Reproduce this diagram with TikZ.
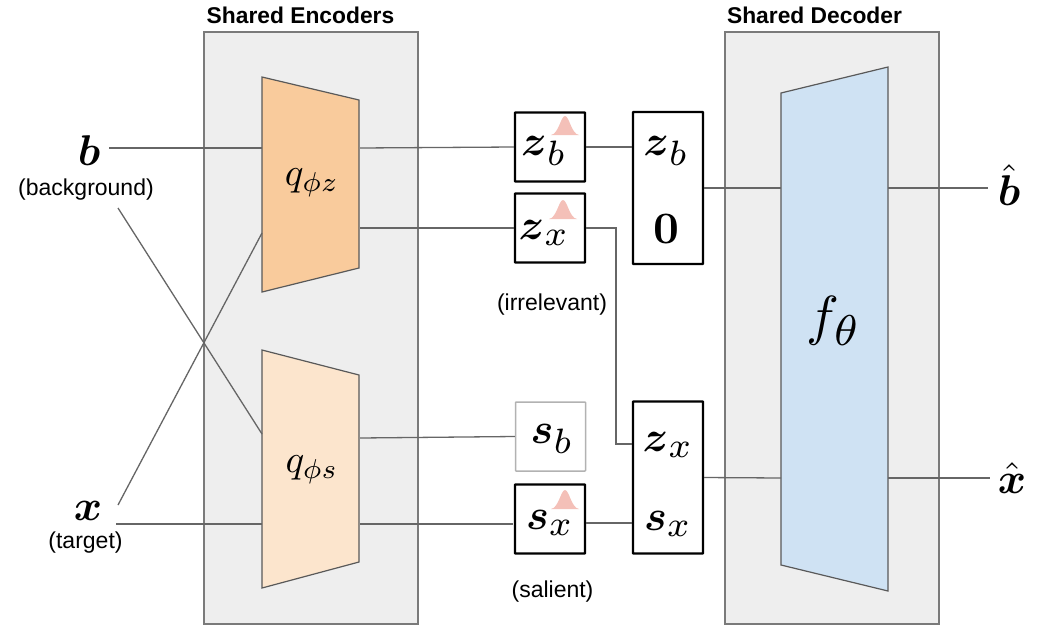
\documentclass[tikz,border=0pt]{standalone}
\usepackage{amsmath}
\usepackage{fontspec}
\setmainfont{Liberation Sans}
\newcommand{\labelsize}{\fontsize{23}{26}\selectfont}
\newcommand{\titlesize}{\fontsize{22.8}{26}\selectfont\bfseries}
\newcommand{\scaledmath}[2]{\scalebox{#1}{$#2$}}
\newcommand{\latentsym}[2]{\scalebox{4.3}{$\boldsymbol{#1}_{\scalebox{1.17}{$\scriptstyle #2$}}$}}
\newcommand{\gaussbump}[3]{% centre x, base y, half width
  \fill[bump] (#1-#3,#2) .. controls (#1-#3*0.45,#2-1) and (#1-#3*0.3,#2-19) .. (#1,#2-19)
    .. controls (#1+#3*0.3,#2-19) and (#1+#3*0.45,#2-1) .. (#1+#3,#2) -- cycle;}
\definecolor{panelfill}{HTML}{EEEEEE}
\definecolor{panelline}{HTML}{7A7A7A}
\definecolor{wire}{HTML}{666666}
\definecolor{encz}{HTML}{F9CB9C}
\definecolor{encs}{HTML}{FCE5CD}
\definecolor{decf}{HTML}{CFE2F3}
\definecolor{bumpc}{HTML}{F4C0B8}
\tikzset{
  panel/.style={draw=panelline,fill=panelfill,line width=1.4pt},
  trap/.style={draw=black!65,line width=1.2pt},
  wireline/.style={draw=wire,line width=1.3pt},
  latent/.style={draw=black,line width=2.4pt,fill=white,rounded corners=0.6pt,inner sep=0pt,
    minimum width=70pt,minimum height=69pt},
  faded/.style={latent,draw=black!30,line width=1.5pt},
  stack/.style={latent,minimum height=152pt},
  bump/.style={fill=bumpc},
  plain/.style={inner sep=0pt,outer sep=0pt}
}
\begin{document}
\begin{tikzpicture}[x=1pt,y=-1pt]
\useasboundingbox (0,0) rectangle (1064,632);
\fill[white] (0,0) rectangle (1064,632);

% shared panels
\draw[panel] (204,32) rectangle (418,624);
\draw[panel] (725,32) rectangle (939,624);
\node[plain,font=\titlesize] (enctitle) at (300.5,15.5) {Shared Encoders};
\node[plain,font=\titlesize] (dectitle) at (814.5,15.5) {Shared Decoder};

% encoder and decoder bodies
\draw[trap,fill=encz] (262,77) -- (359,100) -- (359,268) -- (262,292) -- cycle;
\draw[trap,fill=encs] (262,350) -- (359,375) -- (359,562) -- (262,588) -- cycle;
\draw[trap,fill=decf] (781,93) -- (888,67) -- (888,591) -- (781,565) -- cycle;
\node[plain] (qz) at (312,183) {\scaledmath{3.9}{q_{\phi z}}};
\node[plain] (qs) at (312,470) {\scaledmath{3.9}{q_{\phi s}}};
\node[plain] (f) at (834,321) {\scaledmath{5.5}{f_{\scalebox{1.12}{$\scriptstyle\theta$}}}};

% ports on the bodies
\coordinate (qzinb) at (262,148);
\coordinate (qzinx) at (262,233);
\coordinate (qzoutb) at (360,148);
\coordinate (qzoutx) at (360,228);
\coordinate (qsinb) at (262,434);
\coordinate (qsinx) at (262,524);
\coordinate (qsoutb) at (360,438);
\coordinate (qsoutx) at (360,524);
\coordinate (fintop) at (781,188);
\coordinate (finbot) at (781,478);
\coordinate (fouttop) at (888,188);
\coordinate (foutbot) at (888,478);

% latent boxes
\node[latent] (zb) at (550,147) {};
\node[latent] (zx) at (550,228) {};
\node[faded] (sb) at (550.5,436.5) {};
\node[latent] (sx) at (550,519) {};
\node[stack] (top) at (668,188) {};
\node[stack] (bot) at (668,477.5) {};
\gaussbump{565}{135}{14}
\gaussbump{563}{219}{14}
\gaussbump{565}{509}{14}
\node[plain] (zbt) at (544,151) {\latentsym{z}{b}};
\node[plain] (zxt) at (544,233) {\latentsym{z}{x}};
\node[plain] (sbt) at (552,439) {\latentsym{s}{b}};
\node[plain] (sxt) at (550,523) {\latentsym{s}{x}};
\node[plain] (zbs) at (666,151) {\latentsym{z}{b}};
\node[plain] (zero) at (666,229) {\scaledmath{4.5}{\boldsymbol{0}}};
\node[plain] (zxs) at (668,445) {\latentsym{z}{x}};
\node[plain] (sxs) at (668,524) {\latentsym{s}{x}};

% inputs and outputs
\node[plain] (b) at (89,151) {\scaledmath{4.3}{\boldsymbol{b}}};
\node[plain,font=\labelsize] (bl) at (86,189.5) {(background)};
\node[plain] (x) at (88,511) {\scaledmath{4.3}{\boldsymbol{x}}};
\node[plain,font=\labelsize] (xl) at (85.5,542.5) {(target)};
\node[plain] (bh) at (1009,185) {\scaledmath{4.3}{\hat{\boldsymbol{b}}}};
\node[plain] (xh) at (1012,478) {\scaledmath{4.3}{\hat{\boldsymbol{x}}}};
\node[plain,font=\labelsize] (irr) at (552,305) {(irrelevant)};
\node[plain,font=\labelsize] (sal) at (552.5,592) {(salient)};

% free ends next to the labels
\coordinate (bout) at (109,148);
\coordinate (bcross) at (118,208);
\coordinate (xcross) at (118,505);
\coordinate (xout) at (116,524);
\coordinate (bhin) at (988,188);
\coordinate (xhin) at (990,478);
\coordinate (sxin) at (513,524);

% connectors
\draw[wireline] (bout) -- (qzinb);
\draw[wireline] (xcross) -- (qzinx);
\draw[wireline] (bcross) -- (qsinb);
\draw[wireline] (xout) -- (qsinx);
\draw[wireline] (qzoutb) -- (zb.west);
\draw[wireline] (qzoutx) -- (zx.west);
\draw[wireline] (qsoutb) -- (sb.west);
\draw[wireline] (qsoutx) -- (sxin);
\draw[wireline] (zb.east) -- (top.west |- zb.east);
\draw[wireline] (zx.east) -- (616,228) -- (616,444) -- (bot.west |- 0,444);
\draw[wireline] (sx.east) ++(0,4) -- (bot.west |- 0,523);
\draw[wireline] (top.east) -- (fintop);
\draw[wireline] (bot.east) -- (finbot);
\draw[wireline] (fouttop) -- (bhin);
\draw[wireline] (foutbot) -- (xhin);
\end{tikzpicture}
\end{document}
